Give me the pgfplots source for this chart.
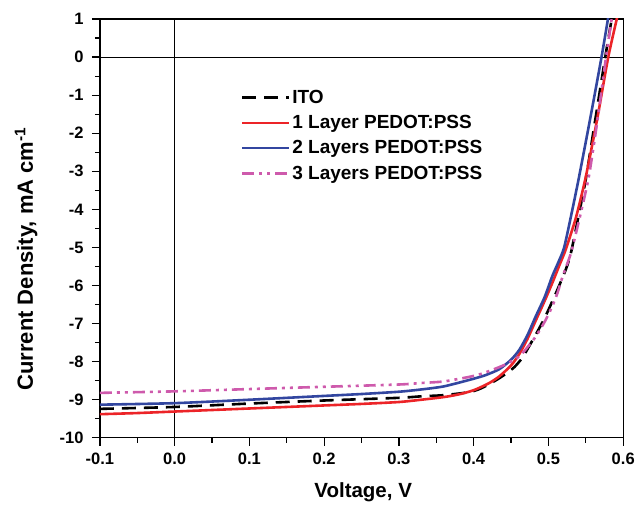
\documentclass[border=0pt]{standalone}
\usepackage{pgfplots}
\pgfplotsset{compat=1.18}
\usepackage{fontspec}
\setmainfont{Liberation Sans}
\definecolor{cred}{RGB}{236,36,40}
\definecolor{cblue}{RGB}{50,70,160}
\definecolor{cpink}{RGB}{206,90,172}
\begin{document}
\begin{tikzpicture}
\begin{axis}[
  scale only axis, width=523.5pt, height=419pt,
  xmin=-0.1, xmax=0.6, ymin=-10, ymax=1,
  xtick={-0.1,0,0.1,0.2,0.3,0.4,0.5,0.6},
  ytick={-10,-9,-8,-7,-6,-5,-4,-3,-2,-1,0,1},
  minor x tick num=1, minor y tick num=1,
  tick align=outside, xtick pos=bottom, ytick pos=left,
  major tick length=8pt, minor tick length=5pt,
  every tick/.style={black, line width=1.2pt},
  axis line style={line width=1.2pt},
  x tick label style={yshift=-4pt, /pgf/number format/.cd, fixed, fixed zerofill, precision=1, assume math mode=true},
  y tick label style={xshift=-5pt, /pgf/number format/assume math mode=true},
  tick label style={font=\fontsize{16.5}{16.5}\selectfont\bfseries},
  xlabel style={font=\fontsize{20.5}{20.5}\selectfont\bfseries, at={(axis description cs:0.503,-0.129)}, anchor=center},
  ylabel style={font=\fontsize{22}{22}\selectfont\bfseries, at={(axis description cs:-0.141,0.427)}, anchor=center},
  xlabel={Voltage, V},
  ylabel={Current Density, mA cm\textsuperscript{-1}},
  legend style={draw=none, fill=none, at={(axis description cs:0.263,0.84)}, anchor=north west,
    font=\fontsize{19}{19}\selectfont\bfseries, row sep=6.5pt, cells={anchor=west}},
  legend image code/.code={\draw[#1, line width=2.6pt] (0pt,0pt) -- (47pt,0pt);},
]
\addplot[black, line width=0.9pt, forget plot] coordinates {(0,-10) (0,1)};
\addplot[black, line width=0.9pt, forget plot] coordinates {(-0.1,0) (0.6,0)};

\addplot[black, line width=2.6pt, dash pattern=on 14pt off 8pt, smooth, tension=0.4] coordinates {
(-0.1,-9.24) (0,-9.19) (0.1,-9.10) (0.2,-9.02) (0.3,-8.95) (0.33,-8.91) (0.36,-8.88)
(0.394,-8.80) (0.41,-8.70) (0.427,-8.52) (0.44,-8.36) (0.454,-8.15) (0.465,-7.90)
(0.474,-7.60) (0.485,-7.22) (0.496,-6.81) (0.510,-6.2) (0.523,-5.59) (0.530,-5.15)
(0.540,-4.2) (0.550,-3.2) (0.563,-1.6) (0.576,0) (0.585,1.05)};
\addlegendentry{ITO}

\addplot[cred, line width=2.6pt, smooth, tension=0.4] coordinates {
(-0.1,-9.38) (-0.05,-9.35) (0,-9.31) (0.05,-9.27) (0.1,-9.23) (0.15,-9.19) (0.2,-9.15)
(0.25,-9.11) (0.3,-9.06) (0.33,-9.0) (0.36,-8.93) (0.38,-8.86) (0.40,-8.75) (0.42,-8.57)
(0.434,-8.39) (0.45,-8.10) (0.461,-7.80) (0.472,-7.40) (0.483,-6.92) (0.495,-6.40)
(0.505,-5.94) (0.515,-5.45) (0.523,-5.06) (0.537,-4.2) (0.550,-3.14) (0.565,-1.65)
(0.580,0) (0.592,1.05)};
\addlegendentry{1 Layer PEDOT:PSS}

\addplot[cblue, line width=2.6pt, smooth, tension=0.4] coordinates {
(-0.1,-9.13) (0,-9.09) (0.1,-9.0) (0.2,-8.90) (0.25,-8.85) (0.3,-8.79) (0.33,-8.73)
(0.36,-8.65) (0.394,-8.48) (0.415,-8.36) (0.434,-8.20) (0.45,-7.95) (0.461,-7.69)
(0.472,-7.30) (0.483,-6.81) (0.495,-6.30) (0.505,-5.76) (0.513,-5.40) (0.521,-5.0)
(0.531,-4.1) (0.541,-3.14) (0.556,-1.6) (0.571,0) (0.580,1.05)};
\addlegendentry{2 Layers PEDOT:PSS}

\addplot[cpink, line width=2.6pt, dash pattern=on 12pt off 5pt on 3pt off 5pt on 3pt off 5pt, smooth, tension=0.4] coordinates {
(-0.1,-8.82) (0,-8.78) (0.1,-8.72) (0.2,-8.66) (0.3,-8.60) (0.33,-8.56) (0.36,-8.52)
(0.394,-8.40) (0.41,-8.32) (0.427,-8.2) (0.445,-8.05) (0.461,-7.86) (0.472,-7.62)
(0.483,-7.34) (0.495,-6.95) (0.505,-6.55) (0.512,-6.2) (0.519,-5.76) (0.530,-5.15)
(0.542,-4.2) (0.554,-3.14) (0.566,-1.6) (0.577,0) (0.585,1.05)};
\addlegendentry{3 Layers PEDOT:PSS}
\end{axis}
\path (current axis.south west) ++(-100pt,-64pt) rectangle ++(638pt,502pt);
\end{tikzpicture}
\end{document}
